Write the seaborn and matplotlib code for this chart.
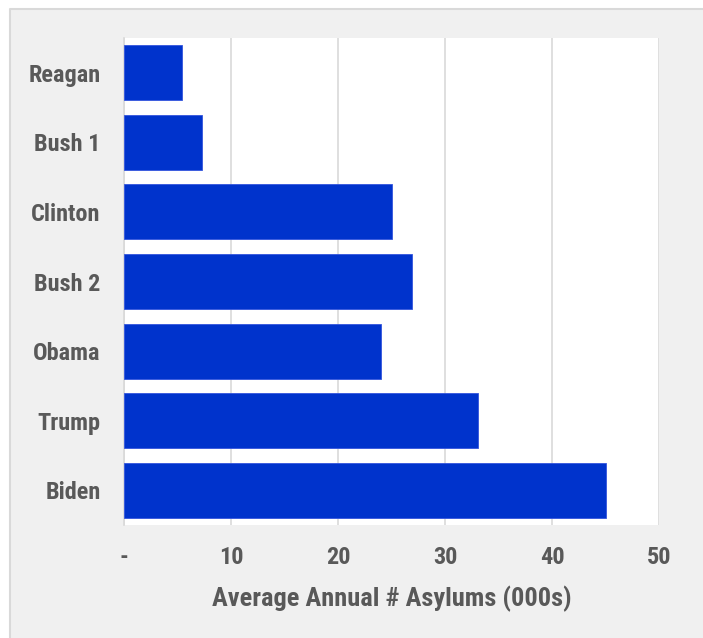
import matplotlib
matplotlib.use("Agg")
import matplotlib.pyplot as plt
from matplotlib import font_manager
import seaborn as sns
import pandas as pd
from matplotlib.patches import Rectangle
from matplotlib.lines import Line2D

# Data
presidents = ["Reagan", "Bush 1", "Clinton", "Bush 2", "Obama", "Trump", "Biden"]
avg_asylums = [5.4, 7.3, 25.0, 26.9, 24.0, 33.1, 45.0]
tick_values = [0, 10, 20, 30, 40, 50]
tick_labels = ["-", "10", "20", "30", "40", "50"]

df = pd.DataFrame({"president": presidents, "asylums": avg_asylums})

sns.set_theme(style="white")

# pick a narrow-ish font if there is one
installed = {f.name for f in font_manager.fontManager.ttflist}
font_name = "Roboto"
for cand in ["Liberation Sans Narrow", "Roboto Condensed", "Open Sans Condensed", "Roboto"]:
    if cand in installed:
        font_name = cand
        break
plt.rcParams["font.family"] = [font_name, "DejaVu Sans"]

text_color = "#595959"
bar_color = "#0033cc"
grid_color = "#d9d9d9"

fig = plt.figure(figsize=(7.03, 6.38), dpi=100, facecolor="white")
# light gray chart area with thin border on top/left
fig.patches.append(Rectangle((10 / 703, 0), 1 - 10 / 703, (638 - 9) / 638,
                             transform=fig.transFigure, facecolor="#f0f0f0",
                             edgecolor="none", zorder=-10))
fig.lines.append(Line2D([10 / 703, 10 / 703, 1], [0, 1 - 9 / 638, 1 - 9 / 638],
                        transform=fig.transFigure, color=grid_color, linewidth=1.5))

ax = fig.add_axes([124 / 703, 1 - 525 / 638, (659 - 124) / 703, (525 - 38) / 638])
ax.set_facecolor("white")

sns.barplot(data=df, x="asylums", y="president", ax=ax, color=bar_color,
            saturation=1, width=0.79, edgecolor="#3355dd", linewidth=0.6, zorder=3)

ax.set_xlim(0, 50)
ax.set_ylim(6.5, -0.5)
ax.set_xticks(tick_values)
ax.set_xticklabels(tick_labels)
ax.xaxis.grid(True, color=grid_color, linewidth=1.2, zorder=0)
ax.set_axisbelow(True)
for side in ["top", "bottom", "right"]:
    ax.spines[side].set_visible(False)
ax.spines["left"].set_color(grid_color)
ax.spines["left"].set_linewidth(1.2)

ax.tick_params(axis="x", length=0, pad=15, labelsize=17.5, labelcolor=text_color)
ax.tick_params(axis="y", length=0, pad=17, labelsize=17.5, labelcolor=text_color)
for lab in ax.get_xticklabels() + ax.get_yticklabels():
    lab.set_fontweight("bold")

ax.set_ylabel("")
ax.set_xlabel("Average Annual # Asylums (000s)", fontsize=19, fontweight="bold",
              color=text_color, labelpad=12)

plt.savefig("out.png", dpi=100)
